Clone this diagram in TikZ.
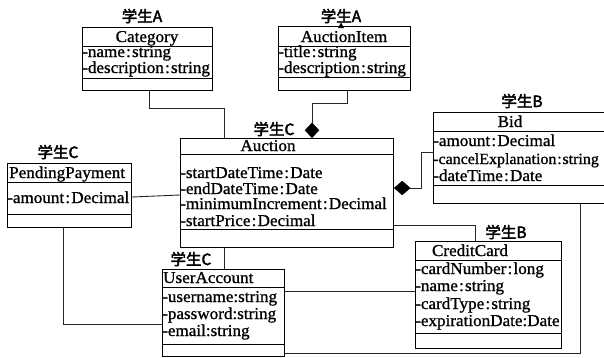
\documentclass[tikz,border=0pt]{standalone}
\usepackage{fontspec}
\setmainfont{Liberation Serif}[FakeBold=1.0, FakeStretch=1.03]
\newfontfamily\cjk{Noto Sans CJK SC}[FakeBold=2.5]
\usetikzlibrary{shapes.geometric}
\newcommand\ccol{\kern1.2pt:\kern1.2pt}
\begin{document}
\begin{tikzpicture}[x=1pt,y=-1pt,
  cls/.style={draw=black, line width=1pt, inner sep=0pt, anchor=north west},
  sepline/.style={draw=black, line width=0.9pt},
  conn/.style={draw=black!85, line width=0.9pt},
  dia/.style={diamond, fill=black, draw=black, line width=0.4pt, inner sep=0pt},
  txt/.style={font=\fontsize{16.6}{18}\selectfont, inner sep=0pt},
  attr/.style={txt, anchor=base west},
  ttl/.style={txt, anchor=base},
  tag/.style={font=\cjk\fontsize{15.5}{17}\selectfont, inner sep=0pt, anchor=base}]
\useasboundingbox (0,0) rectangle (604,357);
\clip (0,0) rectangle (604,357);

% ---------- Category ----------
\node[cls, minimum width=130pt, minimum height=63pt] (cat) at (82,27) {};
\draw[sepline] (82,46) -- (212,46);
\draw[sepline] (82,78) -- (212,78);
\node[tag] (catTag) at (142,22) {学生A};
\node[ttl] (catT) at (147,42) {Category};
\node[attr] (catA1) at (82,57) {-name\ccol string};
\node[attr] (catA2) at (82,73) {-description\ccol string};

% ---------- AuctionItem ----------
\node[cls, minimum width=132pt, minimum height=64pt] (ai) at (278,26) {};
\draw[sepline] (278,46) -- (410,46);
\draw[sepline] (278,77) -- (410,77);
\node[tag] (aiTag) at (341,22) {学生A};
\fill[black] (338,28) -- (341,22.5) -- (344,28) -- cycle;
\node[ttl] (aiT) at (344,42) {AuctionItem};
\node[attr] (aiA1) at (278,57) {-title\ccol string};
\node[attr] (aiA2) at (278,73) {-description\ccol string};

% ---------- Auction ----------
\node[cls, minimum width=213pt, minimum height=109pt] (auc) at (180,138) {};
\draw[sepline] (180,154) -- (393,154);
\draw[sepline] (180,229) -- (393,229);
\node[tag] (aucTag) at (274,135) {学生C};
\node[ttl] (aucT) at (268,151) {Auction};
\node[attr] (aucA1) at (180,178) {-startDateTime\ccol Date};
\node[attr] (aucA2) at (180,194) {-endDateTime\ccol Date};
\node[attr] (aucA3) at (180,209) {-minimumIncrement\ccol Decimal};
\node[attr] (aucA4) at (180,226) {-startPrice\ccol Decimal};

% ---------- Bid ----------
\node[cls, minimum width=200pt, minimum height=91pt] (bid) at (433,112) {};
\draw[sepline] (433,131) -- (640,131);
\draw[sepline] (433,185) -- (640,185);
\node[tag] (bidTag) at (522,107) {学生B};
\node[ttl] (bidT) at (510,127) {Bid};
\node[attr] (bidA1) at (433,146) {-amount\ccol Decimal};
\node[attr, font=\fontsize{15.5}{18}\selectfont] (bidA2) at (433,164) {-cancelExplanation\kern0.8pt:\kern0.8pt string};
\node[attr] (bidA3) at (433,181) {-dateTime\ccol Date};

% ---------- PendingPayment ----------
\node[cls, minimum width=124pt, minimum height=64pt] (pp) at (7,163) {};
\draw[sepline] (7,182) -- (131,182);
\draw[sepline] (7,214) -- (131,214);
\node[tag] (ppTag) at (58,158) {学生C};
\node[attr] (ppT) at (9,178) {PendingPayment};
\node[attr] (ppA1) at (7,203) {-amount\ccol Decimal};

% ---------- UserAccount ----------
\node[cls, minimum width=122pt, minimum height=87pt] (ua) at (162,269) {};
\draw[sepline] (162,287) -- (284,287);
\draw[sepline] (162,344) -- (284,344);
\node[tag] (uaTag) at (191,265) {学生C};
\node[attr] (uaT) at (163,283) {UserAccount};
\node[attr] (uaA1) at (162,302) {-username:string};
\node[attr] (uaA2) at (162,319) {-password:string};
\node[attr] (uaA3) at (162,336) {-email:string};

% ---------- CreditCard ----------
\node[cls, minimum width=146pt, minimum height=107pt] (cc) at (415,241) {};
\draw[sepline] (415,260) -- (561,260);
\draw[sepline] (415,333) -- (561,333);
\node[tag] (ccTag) at (506,238) {学生B};
\node[ttl] (ccT) at (470,256) {CreditCard};
\node[attr] (ccA1) at (415,274) {-cardNumber\ccol long};
\node[attr] (ccA2) at (415,291) {-name\ccol string};
\node[attr] (ccA3) at (415,309) {-cardType\ccol string};
\node[attr] (ccA4) at (415,326) {-expirationDate:Date};

% ---------- composition diamonds ----------
\node[dia, minimum width=14pt, minimum height=15pt, anchor=south] (dmA) at (312,0 |- auc.north) {};
\node[dia, minimum width=16pt, minimum height=14pt, anchor=west] (dmB) at (auc.east |- 0,188) {};

% ---------- associations ----------
\draw[conn] (149,0 |- cat.south) |- (224,108) -- (224,0 |- auc.north);
\draw[conn] (347,0 |- ai.south) |- (312,103) -- (dmA.north);
\draw[conn] (dmB.east) -- (421,188) |- (bid.west |- 0,152);
\draw[conn] (auc.east |- 0,225) -| (475,0 |- cc.north);
\draw[conn] (224,0 |- auc.south) -- (224,0 |- ua.north);
\draw[conn] (pp.east |- 0,197) -- (auc.west |- 0,195);
\draw[conn] (63,0 |- pp.south) |- (ua.west |- 0,324);
\draw[conn] (ua.east |- 0,291) -- (cc.west |- 0,291);
\draw[conn] (ua.east |- 0,353.5) -| (580,0 |- bid.south);
\end{tikzpicture}
\end{document}
